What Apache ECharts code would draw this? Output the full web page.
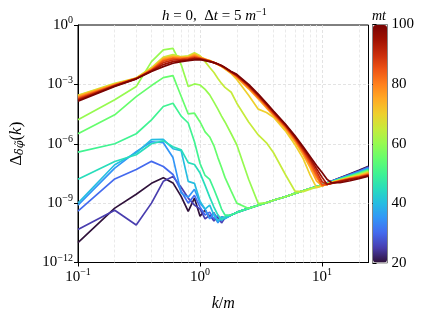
<!DOCTYPE html>
<html><head><meta charset="utf-8">
<script src="https://cdn.jsdelivr.net/npm/echarts@6/dist/echarts.min.js"></script>
<style>html,body{margin:0;padding:0;background:#fff}#c{width:425px;height:317px}</style>
</head><body><div id="c"></div>
<script>
// k/m sample points
const K = [0.1,0.2,0.3,0.4,0.5,0.6,0.7,0.8,0.9,1.0,1.1,1.2,1.3,1.4,1.5,1.6,1.8,2.0,2.5,3,3.5,4,5,6,7,8,9,10,11,12,14,17,20,24];
const mtValues = [20,25,30,35,40,45,50,55,60,65,70,75,80,85,90,95,100];
const colorbarTicks = [20,40,60,80,100];
const xTickLabels = [0.1,1,10];
const yTickLabels = [1e-12,1e-9,1e-6,1e-3,1];

const mt20 = [1.0e-11,5.6e-10,2.8e-9,1.0e-8,1.9e-8,1.05e-8,2.2e-9,3.8e-10,1.8e-9,2.2e-10,4.5e-10,1.8e-10,3.2e-10,1.1e-10,2.0e-10,1.8e-10,2.5e-10,3.4e-10,5.4e-10,7.8e-10,1.05e-9,1.4e-9,2.1e-9,3.1e-9,4.2e-9,5.5e-9,6.9e-9,8.5e-9,1.07e-8,1.3e-8,1.9e-8,3.0e-8,4.5e-8,7.2e-8];
const mt25 = [4.6e-11,4.4e-10,7.9e-11,1.0e-9,1.26e-8,2.2e-8,6.3e-9,1.8e-9,7.9e-10,5.0e-10,1.6e-10,2.5e-10,1.26e-10,2.0e-10,1.0e-10,1.8e-10,2.5e-10,3.4e-10,5.4e-10,7.8e-10,1.05e-9,1.4e-9,2.1e-9,3.1e-9,4.2e-9,5.5e-9,6.9e-9,8.5e-9,1.05e-8,1.29e-8,1.86e-8,2.9e-8,4.2e-8,6.8e-8];
const mt30 = [3.9e-10,1.66e-8,5.0e-8,1.29e-7,7.1e-8,2.8e-8,4.0e-9,1.0e-9,2.5e-9,6.3e-10,2.5e-10,3.5e-10,1.6e-10,2.5e-10,1.26e-10,1.8e-10,2.5e-10,3.4e-10,5.4e-10,7.8e-10,1.05e-9,1.4e-9,2.1e-9,3.1e-9,4.2e-9,5.5e-9,6.9e-9,8.5e-9,1.05e-8,1.26e-8,1.78e-8,2.75e-8,4.0e-8,6.3e-8];
const mt35 = [7.9e-10,5.9e-8,4.0e-7,1.26e-6,1.12e-6,2.0e-7,3.2e-9,2.0e-9,5.0e-9,1.0e-9,5.0e-10,1.6e-10,3.2e-10,1.0e-10,2.0e-10,1.8e-10,2.5e-10,3.4e-10,5.4e-10,7.8e-10,1.05e-9,1.4e-9,2.1e-9,3.1e-9,4.2e-9,5.5e-9,6.9e-9,8.5e-9,1.02e-8,1.26e-8,1.74e-8,2.6e-8,3.7e-8,5.9e-8];
const mt40 = [1.0e-9,8.7e-8,3.5e-7,1.6e-6,1.66e-6,5.6e-7,4.5e-7,1.26e-8,1.0e-8,1.26e-9,5.0e-10,7.9e-10,2.5e-10,1.26e-10,2.0e-10,1.6e-10,2.5e-10,3.4e-10,5.4e-10,7.8e-10,1.05e-9,1.4e-9,2.1e-9,3.1e-9,4.2e-9,5.5e-9,6.9e-9,8.5e-9,1.0e-8,1.23e-8,1.7e-8,2.5e-8,3.5e-8,5.4e-8];
const mt45 = [1.6e-8,1.26e-7,2.8e-7,1.0e-6,1.4e-6,7.1e-7,5.0e-7,1.12e-7,8.9e-8,3.3e-8,7.9e-9,2.0e-9,6.3e-10,2.5e-10,1.4e-10,2.0e-10,2.5e-10,3.4e-10,5.4e-10,7.8e-10,1.05e-9,1.4e-9,2.1e-9,3.1e-9,4.2e-9,5.5e-9,6.9e-9,8.5e-9,1.0e-8,1.2e-8,1.66e-8,2.45e-8,3.3e-8,5.0e-8];
const mt50 = [3.8e-7,1.0e-6,3.2e-6,1.6e-5,7.6e-5,1.12e-4,2.5e-5,1.12e-5,1.26e-6,1.0e-7,2.5e-8,1.6e-8,5.0e-9,1.6e-9,5.0e-10,2.5e-10,2.5e-10,3.4e-10,5.4e-10,7.8e-10,1.05e-9,1.4e-9,2.1e-9,3.1e-9,4.2e-9,5.5e-9,6.9e-9,8.5e-9,9.8e-9,1.17e-8,1.58e-8,2.3e-8,3.2e-8,4.7e-8];
const mt55 = [3.2e-6,2.9e-5,2.4e-4,8.7e-4,2.2e-3,2.75e-3,2.5e-4,3.2e-5,3.5e-5,1.26e-5,4.0e-6,2.2e-6,7.9e-7,2.0e-7,6.3e-8,2.0e-8,4.0e-9,1.0e-9,5.4e-10,7.8e-10,1.05e-9,1.4e-9,2.1e-9,3.1e-9,4.2e-9,5.5e-9,6.9e-9,8.5e-9,9.8e-9,1.15e-8,1.55e-8,2.2e-8,3.0e-8,4.4e-8];
const mt60 = [1.62e-5,1.66e-4,7.8e-4,1.41e-2,5.5e-2,6.6e-2,1.0e-2,7.8e-4,1.05e-3,9.3e-4,5.6e-4,2.95e-4,1.26e-4,5.6e-5,2.5e-5,1.26e-5,3.2e-6,8.9e-7,1.6e-8,9.5e-10,1.05e-9,1.4e-9,2.1e-9,3.1e-9,4.2e-9,5.5e-9,6.3e-9,7.6e-9,9.5e-9,1.12e-8,1.5e-8,2.1e-8,2.8e-8,4.1e-8];
const mt65 = [2.8e-4,1.12e-3,2.1e-3,7.1e-3,2.4e-2,3.2e-2,2.5e-2,2.8e-2,4.0e-2,2.8e-2,1.41e-2,7.1e-3,4.0e-3,2.0e-3,1.12e-3,7.1e-4,4.0e-4,1.12e-4,1.26e-5,2.8e-6,1.12e-6,3.5e-7,2.8e-8,4.0e-9,3.8e-9,5.0e-9,6.3e-9,7.6e-9,9.3e-9,1.12e-8,1.48e-8,2.0e-8,2.6e-8,3.8e-8];
const mt70 = [2.7e-4,1.05e-3,2.1e-3,6.3e-3,2.2e-2,2.8e-2,2.4e-2,2.5e-2,3.5e-2,2.5e-2,1.9e-2,1.6e-2,1.26e-2,1.0e-2,7.9e-3,6.0e-3,3.5e-3,1.78e-3,2.8e-4,5.6e-5,3.8e-5,2.2e-5,4.5e-6,8.9e-7,1.78e-7,2.5e-8,6.0e-9,7.4e-9,9.3e-9,1.1e-8,1.41e-8,1.95e-8,2.5e-8,3.5e-8];
const mt75 = [2.5e-4,1.0e-3,2.0e-3,6.0e-3,2.0e-2,2.5e-2,2.3e-2,2.4e-2,3.2e-2,2.4e-2,1.86e-2,1.6e-2,1.26e-2,1.02e-2,8.1e-3,6.3e-3,3.7e-3,2.2e-3,6.0e-4,1.82e-4,6.5e-5,2.6e-5,5.8e-6,1.26e-6,2.75e-7,6.0e-8,1.32e-8,7.4e-9,9.1e-9,1.07e-8,1.38e-8,1.86e-8,2.3e-8,3.3e-8];
const mt80 = [2.2e-4,9.5e-4,2.0e-3,5.6e-3,1.74e-2,2.2e-2,2.1e-2,2.2e-2,2.8e-2,2.2e-2,1.82e-2,1.55e-2,1.26e-2,1.02e-2,8.3e-3,6.5e-3,3.9e-3,2.4e-3,6.8e-4,2.1e-4,7.4e-5,2.95e-5,6.6e-6,1.51e-6,3.5e-7,8.3e-8,2.0e-8,7.6e-9,8.9e-9,1.05e-8,1.35e-8,1.78e-8,2.2e-8,3.0e-8];
const mt85 = [2.0e-4,9.1e-4,2.0e-3,5.4e-3,1.51e-2,2.0e-2,1.9e-2,2.1e-2,2.5e-2,2.1e-2,1.78e-2,1.51e-2,1.26e-2,1.05e-2,8.5e-3,6.6e-3,4.0e-3,2.6e-3,7.6e-4,2.3e-4,8.3e-5,3.3e-5,7.4e-6,1.74e-6,4.2e-7,1.07e-7,2.8e-8,8.3e-9,8.9e-9,1.02e-8,1.32e-8,1.74e-8,2.1e-8,2.8e-8];
const mt90 = [1.78e-4,8.7e-4,1.95e-3,5.0e-3,1.26e-2,1.7e-2,1.78e-2,1.9e-2,2.2e-2,2.0e-2,1.74e-2,1.48e-2,1.26e-2,1.05e-2,8.7e-3,6.8e-3,4.2e-3,2.75e-3,8.3e-4,2.6e-4,9.3e-5,3.7e-5,8.3e-6,2.0e-6,5.0e-7,1.41e-7,4.0e-8,1.2e-8,8.7e-9,1.02e-8,1.26e-8,1.66e-8,2.0e-8,2.6e-8];
const mt95 = [1.58e-4,8.3e-4,1.9e-3,4.8e-3,1.0e-2,1.41e-2,1.58e-2,1.74e-2,2.0e-2,1.9e-2,1.66e-2,1.45e-2,1.26e-2,1.07e-2,8.7e-3,6.9e-3,4.3e-3,2.95e-3,9.1e-4,2.9e-4,1.02e-4,4.1e-5,9.1e-6,2.2e-6,6.0e-7,1.78e-7,5.6e-8,2.0e-8,8.7e-9,1.0e-8,1.23e-8,1.58e-8,1.86e-8,2.45e-8];
const mt100 = [1.41e-4,7.9e-4,1.9e-3,4.5e-3,7.9e-3,1.17e-2,1.41e-2,1.58e-2,1.74e-2,1.78e-2,1.58e-2,1.41e-2,1.26e-2,1.07e-2,8.9e-3,7.1e-3,4.5e-3,3.2e-3,1.0e-3,3.2e-4,1.12e-4,4.5e-5,1.0e-5,2.5e-6,7.1e-7,2.2e-7,7.9e-8,3.5e-8,1.58e-8,1.07e-8,1.07e-8,1.35e-8,1.7e-8,2.3e-8];

const allSeries = [mt20,mt25,mt30,mt35,mt40,mt45,mt50,mt55,mt60,mt65,mt70,mt75,mt80,mt85,mt90,mt95,mt100];
const minorGridK = [0.2,0.3,0.4,0.5,0.6,0.7,0.8,0.9,2,3,4,5,6,7,8,9,20];

// turbo colormap (polynomial approximation, exact end colours)
function turbo(t){
  if (t <= 0) return '#30123b';
  if (t >= 1) return '#7a0403';
  const r = 0.13572138 + t*(4.61539260 + t*(-42.66032258 + t*(132.13108234 + t*(-152.94239396 + t*59.28637943))));
  const g = 0.09140261 + t*(2.19418839 + t*(4.84296658 + t*(-14.18503333 + t*(4.27729857 + t*2.82956604))));
  const b = 0.10667330 + t*(12.64194608 + t*(-60.58204836 + t*(110.36276771 + t*(-89.90310912 + t*27.34824973))));
  const c = v => Math.max(0, Math.min(255, Math.round(v*255)));
  return 'rgb(' + c(r) + ',' + c(g) + ',' + c(b) + ')';
}
const turboStops = [];
for (let i = 0; i <= 16; i++) turboStops.push(turbo(i/16));

const FONT = '"Liberation Serif","DejaVu Serif",serif';
function sup(v){
  const l = Math.log10(v), e = Math.round(l);
  if (Math.abs(l - e) > 1e-6) return '';
  return '{b|10}{s|' + (e < 0 ? '\u2212' + (-e) : e) + '}';
}
const richTick = {
  b: {fontSize: 15, fontFamily: FONT, color: '#000'},
  s: {fontSize: 10, fontFamily: FONT, color: '#000', padding: [0,0,9,0]}
};

const series = allSeries.map((arr, i) => ({
  type: 'line', name: 'mt=' + mtValues[i], xAxisIndex: 0, yAxisIndex: 0,
  data: K.map((k, j) => [k, arr[j]]),
  showSymbol: false, symbol: 'none', animation: false, z: 3,
  lineStyle: {width: 1.7, color: turbo((mtValues[i]-20)/80)},
  itemStyle: {color: turbo((mtValues[i]-20)/80)}
}));
series[0].markLine = {
  silent: true, symbol: 'none', z: 1, animation: false,
  label: {show: false},
  lineStyle: {color: '#e4e4e4', type: [3,2], width: 0.8},
  data: minorGridK.map(v => ({xAxis: v}))
};
// dummy series bound to the colour bar
series.push({type: 'scatter', xAxisIndex: 1, yAxisIndex: 1, data: [], silent: true});

const option = {
  backgroundColor: '#fff',
  animation: false,
  title: {
    text: '{i|h}{r| = 0,  \u0394}{i|t}{r| = 5 }{i|m}{s|\u22121}',
    left: 157, top: 2,
    textStyle: {fontWeight: 'normal', rich: {
      i: {fontSize: 15, fontFamily: FONT, fontStyle: 'italic', fontWeight: 'normal', color: '#000'},
      r: {fontSize: 15, fontFamily: FONT, fontWeight: 'normal', color: '#000'},
      s: {fontSize: 10, fontFamily: FONT, fontWeight: 'normal', color: '#000', padding: [0,0,8,0]}
    }}
  },
  grid: [
    {left: 78, right: 56.5, top: 25, bottom: 54.5, show: true, borderColor: '#000', borderWidth: 1, containLabel: false},
    {left: 372.5, width: 15, top: 24.5, height: 238.5, show: true, borderColor: '#666', borderWidth: 0.8}
  ],
  xAxis: [
    {type: 'log', logBase: 10, min: 0.1, max: 24, gridIndex: 0,
     name: '{i|k}{r|/}{i|m}', nameLocation: 'middle', nameGap: 33,
     nameTextStyle: {rich: {
       i: {fontSize: 16, fontFamily: FONT, fontStyle: 'italic', color: '#000'},
       r: {fontSize: 16, fontFamily: FONT, color: '#000'}}},
     axisLine: {show: true, lineStyle: {color: '#000', width: 1}},
     axisTick: {show: true, length: 4, lineStyle: {color: '#000'}},
     axisLabel: {formatter: sup, rich: richTick, margin: 5, showMaxLabel: false},
     splitLine: {show: true, showMinLine: false, showMaxLine: false, lineStyle: {color: '#dcdcdc', type: [3,2], width: 0.8}},
     minorTick: {show: false}},
    {type: 'value', gridIndex: 1, show: false, min: 0, max: 1}
  ],
  yAxis: [
    {type: 'log', logBase: 1000, min: 1e-12, max: 1, gridIndex: 0,
     name: '{a|\u0394}{s|\u03b4\u03c6\u0303}{a|(}{i|k}{a|)}', nameLocation: 'middle', nameRotate: 90, nameGap: 52,
     nameTextStyle: {rich: {
       a: {fontSize: 17, fontFamily: FONT, color: '#000'},
       i: {fontSize: 17, fontFamily: FONT, fontStyle: 'italic', color: '#000'},
       s: {fontSize: 11, fontFamily: '"DejaVu Serif",serif', fontStyle: 'italic', color: '#000', padding: [8,0,0,0]}}},
     axisLine: {show: true, lineStyle: {color: '#000', width: 1}},
     axisTick: {show: true, length: 4, lineStyle: {color: '#000'}},
     axisLabel: {formatter: sup, rich: richTick, margin: 5},
     splitLine: {show: true, showMinLine: false, showMaxLine: false, lineStyle: {color: '#dcdcdc', type: [3,2], width: 0.8}}},
    {type: 'value', gridIndex: 1, min: 20, max: 100, interval: 20, position: 'right',
     axisLine: {show: false},
     axisTick: {show: true, length: 4, lineStyle: {color: '#000'}},
     axisLabel: {fontSize: 15, fontFamily: FONT, color: '#000', margin: 4},
     splitLine: {show: false}}
  ],
  visualMap: {
    type: 'continuous', min: 20, max: 100, seriesIndex: series.length - 1,
    calculable: false, orient: 'vertical', left: 373, top: 25,
    itemWidth: 14, itemHeight: 237.5, padding: 0, showLabel: false,
    inRange: {color: turboStops}
  },
  graphic: [
    {type: 'text', left: 372, top: 9, style: {text: 'mt', fontSize: 14, fontFamily: FONT, fontStyle: 'italic', fill: '#000'}}
  ],
  series: series
};
const chart = echarts.init(document.getElementById('c'), null, {renderer: 'canvas'});
chart.setOption(option);
</script></body></html>
